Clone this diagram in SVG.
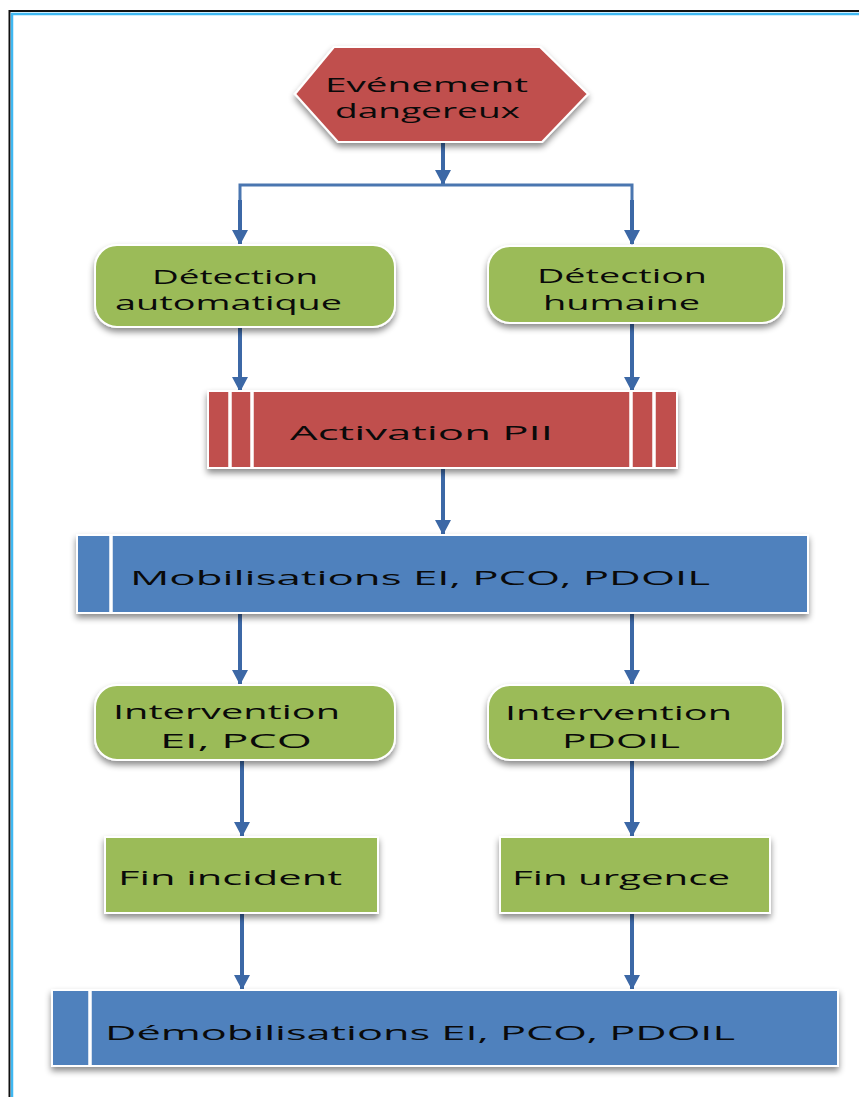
<svg xmlns="http://www.w3.org/2000/svg" width="859" height="1097" viewBox="0 0 859 1097">
  <defs>
    <filter id="shadow" x="-10%" y="-20%" width="120%" height="150%">
      <feDropShadow dx="0" dy="4" stdDeviation="3" flood-color="#000" flood-opacity="0.45"/>
    </filter>
    <!-- arrowhead drawn along +x so orient="auto" turns it with the line -->
    <marker id="arrow" markerUnits="userSpaceOnUse" markerWidth="15" markerHeight="16" refX="14" refY="8" orient="auto" viewBox="0 0 15 16">
      <path d="M0,0 L15,8 L0,16 Z" fill="#3C68A6"/>
    </marker>
    <style>
      .red { fill: #C0504D; stroke: #FFFFFF; stroke-width: 2; }
      .green { fill: #9BBB59; stroke: #FFFFFF; stroke-width: 2; }
      .blue { fill: #4F81BD; stroke: #FFFFFF; stroke-width: 2; }
      .bar { stroke: #FFFFFF; stroke-width: 3.5; }
      .lbl { font-family: "Open Sans", "DejaVu Sans", sans-serif; font-size: 20px; font-weight: 500; fill: #0A0A0A; }
      .link { fill: none; stroke: #3C68A6; stroke-width: 4; }
      .branch { fill: none; stroke: #4A76B0; stroke-width: 3; }
    </style>
  </defs>

  <rect x="0" y="0" width="859" height="1097" fill="#FFFFFF"/>

  <!-- page frame -->
  <path d="M9.5,1097 V11 H859" fill="none" stroke="#111111" stroke-width="2"/>
  <path d="M12,1097 V14 H859" fill="none" stroke="#3FB8F2" stroke-width="2.5"/>

  <!-- connectors -->
  <g id="connectors">
    <line class="link" x1="443" y1="142" x2="443" y2="184" marker-end="url(#arrow)"/>
    <polyline class="branch" points="240,232 240,185 632,185 632,232"/>
    <line class="link" x1="240" y1="200" x2="240" y2="244" marker-end="url(#arrow)"/>
    <line class="link" x1="632" y1="200" x2="632" y2="244" marker-end="url(#arrow)"/>
    <line class="link" x1="240" y1="328" x2="240" y2="391" marker-end="url(#arrow)"/>
    <line class="link" x1="632" y1="323" x2="632" y2="391" marker-end="url(#arrow)"/>
    <line class="link" x1="443" y1="469" x2="443" y2="534" marker-end="url(#arrow)"/>
    <line class="link" x1="240" y1="614" x2="240" y2="684" marker-end="url(#arrow)"/>
    <line class="link" x1="632" y1="614" x2="632" y2="684" marker-end="url(#arrow)"/>
    <line class="link" x1="242" y1="761" x2="242" y2="836" marker-end="url(#arrow)"/>
    <line class="link" x1="632" y1="761" x2="632" y2="836" marker-end="url(#arrow)"/>
    <line class="link" x1="242" y1="914" x2="242" y2="989" marker-end="url(#arrow)"/>
    <line class="link" x1="632" y1="914" x2="632" y2="989" marker-end="url(#arrow)"/>
  </g>

  <!-- start event -->
  <g id="evenement">
    <polygon class="red" filter="url(#shadow)" points="295,94 334,47 540,47 588,94 542,142 338,142"/>
    <text class="lbl" x="325" y="92" textLength="203" lengthAdjust="spacingAndGlyphs">Evénement</text>
    <text class="lbl" x="335" y="118" textLength="185" lengthAdjust="spacingAndGlyphs">dangereux</text>
  </g>

  <g id="detection-auto">
    <rect class="green" filter="url(#shadow)" x="95" y="245" width="300" height="82" rx="22" ry="22"/>
    <text class="lbl" x="152" y="284" textLength="166" lengthAdjust="spacingAndGlyphs">Détection</text>
    <text class="lbl" x="115" y="310" textLength="227" lengthAdjust="spacingAndGlyphs">automatique</text>
  </g>

  <g id="detection-humaine">
    <rect class="green" filter="url(#shadow)" x="488" y="246" width="296" height="77" rx="22" ry="22"/>
    <text class="lbl" x="537" y="283" textLength="170" lengthAdjust="spacingAndGlyphs">Détection</text>
    <text class="lbl" x="543" y="310" textLength="157" lengthAdjust="spacingAndGlyphs">humaine</text>
  </g>

  <g id="activation">
    <rect class="red" filter="url(#shadow)" x="208" y="391" width="469" height="77"/>
    <line class="bar" x1="230" y1="391" x2="230" y2="468"/>
    <line class="bar" x1="252" y1="391" x2="252" y2="468"/>
    <line class="bar" x1="631" y1="391" x2="631" y2="468"/>
    <line class="bar" x1="654" y1="391" x2="654" y2="468"/>
    <text class="lbl" x="290" y="440" textLength="263" lengthAdjust="spacingAndGlyphs">Activation PII</text>
  </g>

  <g id="mobilisations">
    <rect class="blue" filter="url(#shadow)" x="77" y="535" width="731" height="78"/>
    <line class="bar" x1="111" y1="535" x2="111" y2="613"/>
    <text class="lbl" x="130" y="585" textLength="580" lengthAdjust="spacingAndGlyphs">Mobilisations EI, PCO, PDOIL</text>
  </g>

  <g id="intervention-ei-pco">
    <rect class="green" filter="url(#shadow)" x="95" y="685" width="300" height="75" rx="22" ry="22"/>
    <text class="lbl" x="113" y="719" textLength="227" lengthAdjust="spacingAndGlyphs">Intervention</text>
    <text class="lbl" x="160" y="748" textLength="152" lengthAdjust="spacingAndGlyphs">EI, PCO</text>
  </g>

  <g id="intervention-pdoil">
    <rect class="green" filter="url(#shadow)" x="488" y="685" width="295" height="75" rx="22" ry="22"/>
    <text class="lbl" x="505" y="720" textLength="227" lengthAdjust="spacingAndGlyphs">Intervention</text>
    <text class="lbl" x="562" y="748" textLength="118" lengthAdjust="spacingAndGlyphs">PDOIL</text>
  </g>

  <g id="fin-incident">
    <rect class="green" filter="url(#shadow)" x="105" y="837" width="273" height="76"/>
    <text class="lbl" x="118" y="885" textLength="224" lengthAdjust="spacingAndGlyphs">Fin incident</text>
  </g>

  <g id="fin-urgence">
    <rect class="green" filter="url(#shadow)" x="500" y="837" width="270" height="76"/>
    <text class="lbl" x="512" y="885" textLength="218" lengthAdjust="spacingAndGlyphs">Fin urgence</text>
  </g>

  <g id="demobilisations">
    <rect class="blue" filter="url(#shadow)" x="52" y="990" width="786" height="76"/>
    <line class="bar" x1="90" y1="990" x2="90" y2="1066"/>
    <text class="lbl" x="105" y="1040" textLength="630" lengthAdjust="spacingAndGlyphs">Démobilisations EI, PCO, PDOIL</text>
  </g>
</svg>
